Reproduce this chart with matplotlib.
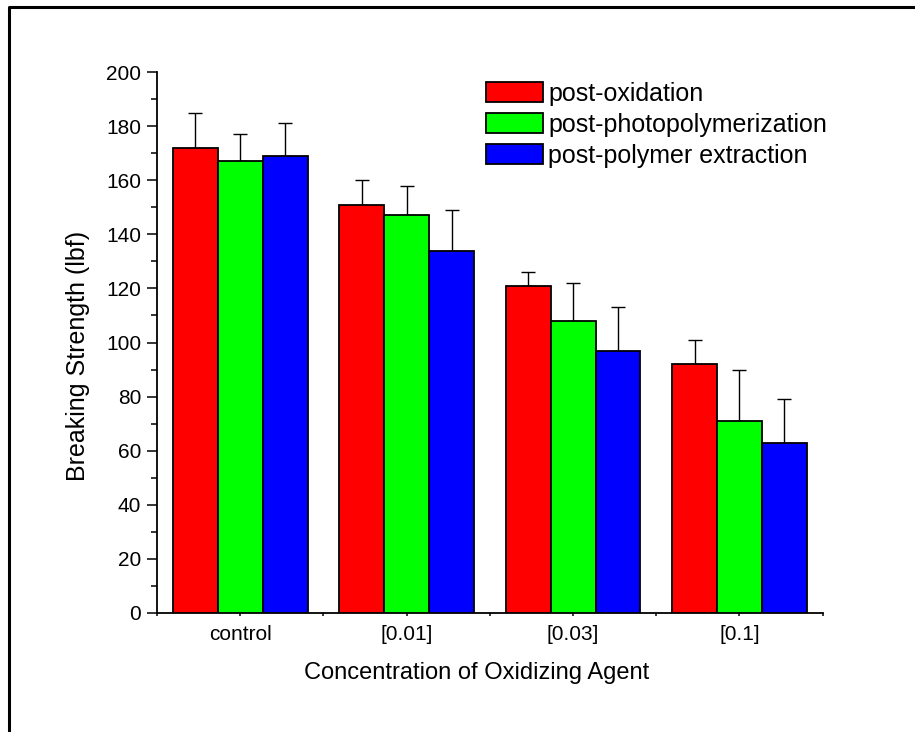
import matplotlib
matplotlib.use("Agg")
import matplotlib.pyplot as plt
import numpy as np
from matplotlib.lines import Line2D
from matplotlib.ticker import MultipleLocator, FixedLocator

plt.rcParams['font.family'] = ['Liberation Sans', 'DejaVu Sans']

categories = ["control", "[0.01]", "[0.03]", "[0.1]"]
series_names = ["post-oxidation", "post-photopolymerization", "post-polymer extraction"]
oxidation = [172, 151, 121, 92]
oxidation_err = [13, 9, 5, 9]
photopoly = [167, 147, 108, 71]
photopoly_err = [10, 11, 14, 19]
extraction = [169, 134, 97, 63]
extraction_err = [12, 15, 16, 16]
colors = ["#FF0000", "#00FF00", "#0000FF"]

values = [oxidation, photopoly, extraction]
errors = [oxidation_err, photopoly_err, extraction_err]

W, H = 915, 732
fig = plt.figure(figsize=(W / 100, H / 100), dpi=100)
ax = fig.add_axes([157 / W, 1 - 613 / H, (822.7 - 157) / W, (613 - 72) / H])

x = np.arange(len(categories))
bw = 0.27
offsets = [-bw, 0, bw]
for vals, errs, col, name, off in zip(values, errors, colors, series_names, offsets):
    ax.bar(x + off, vals, width=bw, color=col, edgecolor="black", linewidth=1.3,
           label=name, zorder=3)
    ax.errorbar(x + off, vals, yerr=[np.zeros(len(errs)), errs], fmt="none",
                ecolor="black", elinewidth=1.0, capsize=5, capthick=1.0, zorder=2)

ax.set_xlim(-0.5, len(categories) - 0.5)
ax.set_ylim(0, 200)
ax.spines['top'].set_visible(False)
ax.spines['right'].set_visible(False)
ax.spines['left'].set_linewidth(1.3)
ax.spines['bottom'].set_linewidth(1.3)

ax.yaxis.set_major_locator(MultipleLocator(20))
ax.yaxis.set_minor_locator(MultipleLocator(10))
ax.tick_params(axis='y', which='major', direction='out', length=7.5, width=1.1,
               labelsize=15, pad=4)
ax.tick_params(axis='y', which='minor', direction='out', length=4, width=1.1)

ax.set_xticks(x)
ax.set_xticklabels(categories)
ax.xaxis.set_minor_locator(FixedLocator(np.arange(-0.5, len(categories), 1.0)))
ax.tick_params(axis='x', which='major', direction='out', length=2.5, width=1.1,
               labelsize=15, pad=6)
ax.tick_params(axis='x', which='minor', direction='out', length=2.5, width=1.1)

fig.text(477 / W, 1 - 673 / H, "Concentration of Oxidizing Agent", fontsize=17,
         ha='center', va='center')
fig.text(78 / W, 1 - 356 / H, "Breaking Strength (lbf)", fontsize=18,
         ha='center', va='center', rotation=90)

leg = ax.legend(loc='upper left', bbox_to_anchor=(486 / W, 1 - 82 / H),
                bbox_transform=fig.transFigure, frameon=False, fontsize=18,
                borderpad=0, borderaxespad=0, handlelength=2.28, handleheight=0.84,
                handletextpad=0.2, labelspacing=0.28)

# figure frame (left and top edges)
fig.add_artist(Line2D([9 / W, 9 / W, 1.0], [0.0, 1 - 7 / H, 1 - 7 / H],
                      transform=fig.transFigure, color='black', linewidth=2.2))

fig.savefig("out.png", dpi=100)
